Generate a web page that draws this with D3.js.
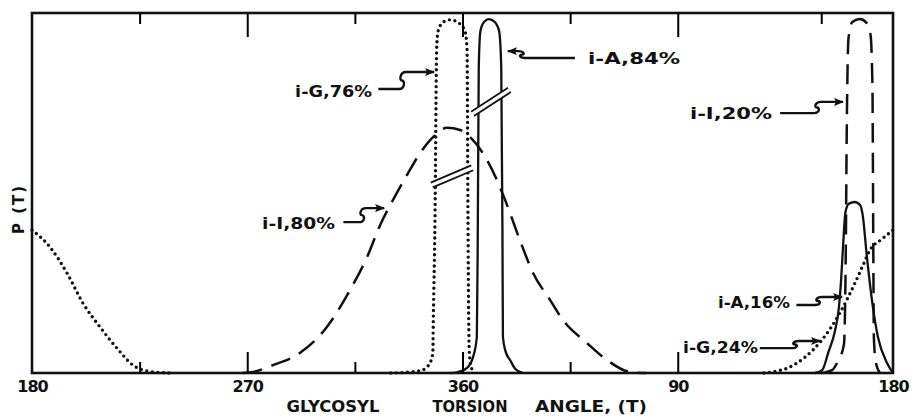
<!DOCTYPE html>
<html lang="en">
<head>
  <meta charset="UTF-8">
  <title>Glycosyl torsion angle</title>
  <script src="https://cdn.jsdelivr.net/npm/d3@7"></script>
  <style>
    body { margin: 0; background: #fff; }
    svg text { font-family: "DejaVu Sans", sans-serif; font-weight: bold; fill: #111; }
    .curve { fill: none; stroke: #111; }
  </style>
</head>
<body>
  <svg width="915" height="420"></svg>
  <script>
    // angles run 180 -> 270 -> 360(0) -> 90 -> 180, stored unwrapped as 180..540
    const iG = [[180, 0.397], [187.5, 0.35], [194.6, 0.278], [201.3, 0.194], [208.4, 0.128], [215.5, 0.069],
      [222.2, 0.022], [229.3, 0.004], [238, 0], [330, 0], [336.8, 0.002], [343.1, 0.008], [346.4, 0.028],
      [347.6, 0.056], [347.8, 0.147], [348.5, 0.425], [349.2, 0.9], [349.8, 0.95], [352, 0.975], [354.8, 0.981],
      [358.5, 0.972], [361, 0.95], [361.9, 0.9], [362.3, 0.425], [362.6, 0.147], [362.8, 0.064], [363.5, 0.02],
      [365, 0], [486, 0], [492, 0.006], [496, 0.014], [503.2, 0.044], [510.3, 0.092], [517.8, 0.167],
      [524.1, 0.25], [527.5, 0.3], [530.4, 0.342], [535.4, 0.372], [540, 0.397]];

    const iA = [[180, 0], [355, 0], [357.7, 0.002], [361.9, 0.014], [364.4, 0.044], [366, 0.1], [366.4, 0.4],
      [366.8, 0.85], [367.5, 0.95], [369, 0.975], [371.1, 0.983], [373.5, 0.975], [375.3, 0.95], [376.2, 0.85],
      [376.7, 0.4], [376.9, 0.1], [378, 0.06], [379.9, 0.036], [382, 0.012], [385.3, 0], [507.4, 0],
      [510.4, 0.008], [512.9, 0.056], [515.8, 0.119], [517.4, 0.183], [518.3, 0.258], [519.1, 0.35],
      [520.1, 0.445], [521.5, 0.47], [524, 0.475], [526.3, 0.466], [527.3, 0.44], [529.1, 0.322],
      [531.6, 0.183], [533.7, 0.1], [537.5, 0.028], [540, 0]];

    const iI = [[180, 0], [268, 0], [272.4, 0.003], [280.8, 0.022], [292.1, 0.056], [303.3, 0.128],
      [313, 0.231], [320.1, 0.322], [325.5, 0.41], [330.9, 0.48], [336.8, 0.55], [342.2, 0.61],
      [347.7, 0.655], [353.5, 0.681], [359, 0.675], [363.1, 0.656], [368.2, 0.614], [374.4, 0.536],
      [377.8, 0.481], [384, 0.369], [389.5, 0.278], [396.6, 0.203], [402, 0.147], [412.1, 0.083],
      [420.4, 0.036], [430, 0.003], [437, 0], [510, 0], [514.5, 0.008], [516.6, 0.028], [519.5, 0.08],
      [520.2, 0.3], [520.7, 0.7], [521.4, 0.93], [523, 0.975], [526.2, 0.983], [529, 0.972], [530.6, 0.94],
      [531.4, 0.8], [531.8, 0.3], [532, 0.1], [532.8, 0.03], [534.5, 0], [540, 0]];

    const tickLabelValues = [180, 270, 360, 450, 540];
    const tickLabelText = ['180', '270', '360', '90', '180'];
    const majorTicks = [270, 360, 450];
    const minorTicksBottom = [225, 315, 405];
    const minorTicksTop = [225, 315, 405, 510];
    const axisWords = ['GLYCOSYL', 'TORSION', 'ANGLE, (T)'];
    const yLabel = 'P (T)';

    // labels with their arrows (angle / P units)
    const notes = [
      { text: 'i-G,76%', tx: 290.0, ty: 0.767, sx: 324.8, sy: 0.789, kx: 334.7, ex: 348.1, ey: 0.836, w: 77 },
      { text: 'i-A,84%', tx: 412.5, ty: 0.858, sx: 407.0, sy: 0.875, kx: 384.9, ex: 379.0, ey: 0.894, w: 92 },
      { text: 'i-I,20%', tx: 455.1, ty: 0.706, sx: 492.8, sy: 0.722, kx: 508.2, ex: 519.1, ey: 0.753, w: 82 },
      { text: 'i-I,80%', tx: 276.2, ty: 0.400, sx: 310.2, sy: 0.419, kx: 318.0, ex: 327.2, ey: 0.458, w: 73 },
      { text: 'i-A,16%', tx: 466.8, ty: 0.181, sx: 499.6, sy: 0.189, kx: 508.6, ex: 518.7, ey: 0.211, w: 72 },
      { text: 'i-G,24%', tx: 452.2, ty: 0.056, sx: 484.3, sy: 0.069, kx: 499.0, ex: 509.5, ey: 0.089, w: 75 }
    ];
    const breaks = [{ a: 371.9, p: 0.753, tilt: -33 }, { a: 355.6, p: 0.546, tilt: -23 }];

    const svg = d3.select('svg');
    const mLeft = 32, mRight = 893, mTop = 13, mBottom = 373;

    const x = d3.scaleLinear().domain([180, 540]).range([mLeft, mRight]);
    const y = d3.scaleLinear().domain([0, 1]).range([mBottom, mTop]);

    const line = d3.line()
      .x(d => x(d[0]))
      .y(d => y(d[1]))
      .curve(d3.curveMonotoneX);

    // split a series where it runs flat along the baseline
    function runs(data) {
      const out = [];
      let cur = [data[0]];
      for (let i = 1; i < data.length; i++) {
        if (data[i][1] === 0 && data[i - 1][1] === 0) {
          out.push(cur);
          cur = [data[i]];
        } else {
          cur.push(data[i]);
        }
      }
      out.push(cur);
      return out.filter(r => r.length > 1);
    }

    svg.append('g').selectAll('path').data(runs(iI)).join('path')
      .attr('class', 'curve').attr('d', line)
      .style('stroke-width', 2.5)
      .style('stroke-dasharray', '20 10');
    svg.append('g').selectAll('path').data(runs(iG)).join('path')
      .attr('class', 'curve').attr('d', line)
      .style('stroke-width', 3.4)
      .style('stroke-linecap', 'round')
      .style('stroke-dasharray', '0 5.6');
    svg.append('g').selectAll('path').data(runs(iA)).join('path')
      .attr('class', 'curve').attr('d', line)
      .style('stroke-width', 2.3);

    // break marks
    breaks.forEach(b => {
      const cx = x(b.a), cy = y(b.p);
      const t = b.tilt * Math.PI / 180;
      const ux = Math.cos(t), uy = Math.sin(t);
      const nx = -uy, ny = ux;
      const half = 22, gap = 2.6;
      const g = svg.append('g');
      g.append('line')
        .attr('x1', cx - ux * half).attr('y1', cy - uy * half)
        .attr('x2', cx + ux * half).attr('y2', cy + uy * half)
        .attr('stroke', '#fff').attr('stroke-width', gap * 2);
      [-gap, gap].forEach(o => {
        g.append('line')
          .attr('x1', cx - ux * half + nx * o).attr('y1', cy - uy * half + ny * o)
          .attr('x2', cx + ux * half + nx * o).attr('y2', cy + uy * half + ny * o)
          .attr('stroke', '#111').attr('stroke-width', 1.8);
      });
    });

    // frame
    svg.append('rect')
      .attr('x', mLeft).attr('y', mTop)
      .attr('width', mRight - mLeft).attr('height', mBottom - mTop)
      .attr('fill', 'none').attr('stroke', '#111').attr('stroke-width', 2.6);

    // ticks
    const bottomMajor = svg.append('g')
      .attr('transform', `translate(0,${mBottom})`)
      .call(d3.axisBottom(x).tickValues(tickLabelValues).tickSize(-21).tickPadding(8)
        .tickFormat((d, i) => tickLabelText[i]));
    bottomMajor.selectAll('.tick line')
      .attr('stroke-width', d => majorTicks.includes(d) ? 2 : 0);
    bottomMajor.selectAll('text')
      .attr('font-size', 16).attr('letter-spacing', -1)
      .attr('font-family', '"DejaVu Sans", sans-serif').attr('fill', '#111');

    svg.append('g')
      .attr('transform', `translate(0,${mBottom})`)
      .call(d3.axisBottom(x).tickValues(minorTicksBottom).tickSize(-11).tickFormat(''))
      .selectAll('.tick line').attr('stroke-width', 2);

    svg.append('g')
      .attr('transform', `translate(0,${mTop})`)
      .call(d3.axisTop(x).tickValues(majorTicks).tickSize(-24).tickFormat(''))
      .selectAll('.tick line').attr('stroke-width', 2);

    svg.append('g')
      .attr('transform', `translate(0,${mTop})`)
      .call(d3.axisTop(x).tickValues(minorTicksTop).tickSize(-11).tickFormat(''))
      .selectAll('.tick line').attr('stroke-width', 2);

    svg.selectAll('.domain').remove();

    // axis titles
    const wordX = [333, 470, 591];
    const wordW = [93, 75, 112];
    axisWords.forEach((w, i) => {
      svg.append('text')
        .attr('x', wordX[i]).attr('y', 412)
        .attr('text-anchor', 'middle')
        .attr('font-size', 16)
        .attr('textLength', wordW[i]).attr('lengthAdjust', 'spacingAndGlyphs')
        .text(w);
    });

    svg.append('text')
      .attr('transform', 'translate(24,210) rotate(-90)')
      .attr('text-anchor', 'middle')
      .attr('font-size', 15)
      .attr('textLength', 48).attr('lengthAdjust', 'spacing')
      .text(yLabel);

    // arrows and labels
    svg.append('defs').append('marker')
      .attr('id', 'head')
      .attr('viewBox', '0 0 10 8')
      .attr('refX', 9).attr('refY', 4)
      .attr('markerWidth', 10).attr('markerHeight', 8)
      .attr('markerUnits', 'userSpaceOnUse')
      .attr('orient', 'auto')
      .append('path').attr('d', 'M0,0 L10,4 L0,8 L2,4 z').attr('fill', '#111');

    notes.forEach(n => {
      const sx = x(n.sx), sy = y(n.sy), k = x(n.kx), ex = x(n.ex), ey = y(n.ey);
      const dir = ex > sx ? 1 : -1;
      const my = (sy + ey) / 2;
      const p = d3.path();
      p.moveTo(sx, sy);
      p.lineTo(k - 3 * dir, sy);
      p.bezierCurveTo(k + 3 * dir, sy, k + 3 * dir, my, k, my);
      p.bezierCurveTo(k - 3 * dir, my, k - 2 * dir, ey, k + 4 * dir, ey);
      p.lineTo(ex, ey);
      svg.append('path')
        .attr('d', p.toString())
        .attr('fill', 'none').attr('stroke', '#111').attr('stroke-width', 2.4)
        .attr('marker-end', 'url(#head)');

      svg.append('text')
        .attr('x', x(n.tx)).attr('y', y(n.ty))
        .attr('font-size', 16)
        .attr('textLength', n.w).attr('lengthAdjust', 'spacingAndGlyphs')
        .text(n.text);
    });
  </script>
</body>
</html>
